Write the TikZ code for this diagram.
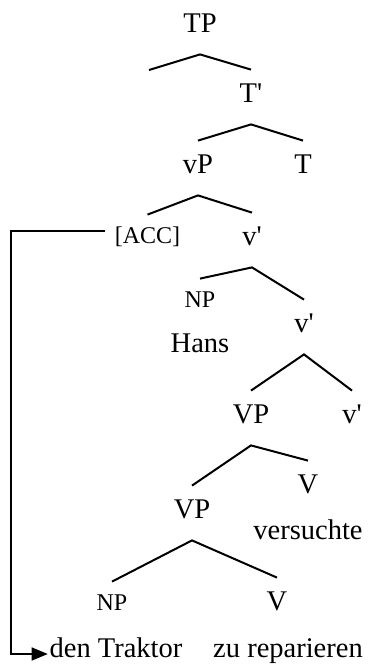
\documentclass[tikz,border=0pt]{standalone}
\usepackage{fontspec}
\setmainfont{Liberation Serif}
\newfontfamily\treefont{Liberation Serif}
\usetikzlibrary{arrows.meta}
\newcommand{\prm}{\textquotesingle}

\begin{document}
\begin{tikzpicture}[x=0.5pt, y=-0.5pt,
    cat/.style={anchor=base, inner sep=0pt, text height=16pt, text depth=11pt,
                font=\treefont\fontsize{14.25pt}{17pt}\selectfont},
    smallcat/.style={cat, text height=14pt, font=\treefont\fontsize{12pt}{14pt}\selectfont},
    word/.style={anchor=base, inner sep=0pt, font=\treefont\fontsize{14.25pt}{17pt}\selectfont},
    branch/.style={line width=1pt},
    link/.style={line width=0.7pt, -{Triangle[length=8pt,width=6.5pt]}}]
  \useasboundingbox (0,0) rectangle (369,665);

  \node[cat] (tp) at (200,32) {TP};
  \coordinate (spec) at (149,70);
  \node[cat] (tbar) at (251,102) {T\prm};
  \node[cat] (vp) at (198,173) {vP};
  \node[cat] (t) at (303,173) {T};
  \node[smallcat] (acc) at (147.5,243) {[ACC]};
  \node[cat] (vbar1) at (252,245) {v\prm};
  \node[smallcat] (np1) at (200,307) {NP};
  \node[word] (hans) at (200,352) {Hans};
  \node[cat] (vbar2) at (304,332) {v\prm};
  \node[cat] (vpa) at (251,423) {VP};
  \node[cat] (vbar3) at (352,423) {v\prm};
  \node[cat] (va) at (308,493) {V};
  \node[word] (versuchte) at (308,539) {versuchte};
  \node[cat] (vpb) at (192,518) {VP};
  \node[smallcat] (np2) at (112,610) {NP};
  \node[cat] (vb) at (277,610) {V};
  \node[word] (den) at (116,657) {den Traktor};
  \node[word] (zu) at (288,657) {zu reparieren};
  \coordinate (bend) at (11,654);

  \draw[branch] (spec) -- (tp.south) -- (tbar.north);
  \draw[branch] (vp.north) -- (tbar.south) -- (t.north);
  \draw[branch] (acc.north) -- (vp.south) -- (vbar1.north);
  \draw[branch] (np1.north) -- (vbar1.south) -- (vbar2.north);
  \draw[branch] (vpa.north) -- (vbar2.south) -- (vbar3.north);
  \draw[branch] (vpb.north) -- (vpa.south) -- (va.north);
  \draw[branch] (np2.north) -- (vpb.south) -- (vb.north);

  \draw[link] ([shift={(-9,-12)}]acc.base west) -| (bend) -- ([shift={(-1.5,-3)}]den.base west);
\end{tikzpicture}
\end{document}
